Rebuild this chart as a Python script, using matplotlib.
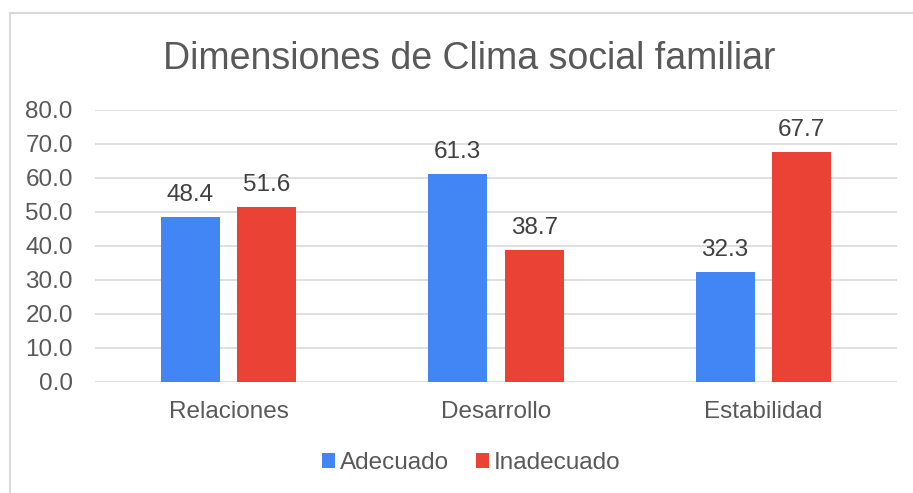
import matplotlib.pyplot as plt
import numpy as np
from matplotlib.lines import Line2D

plt.rcParams['font.family'] = ['Liberation Sans', 'DejaVu Sans']

categories = ['Relaciones', 'Desarrollo', 'Estabilidad']
adecuado = [48.4, 61.3, 32.3]
inadecuado = [51.6, 38.7, 67.7]
yticks = [0, 10, 20, 30, 40, 50, 60, 70, 80]

text_color = '#595959'
grid_color = '#d9d9d9'
blue = '#4285F4'
red = '#EA4335'
fs = 17.5

W, H = 913, 493
fig = plt.figure(figsize=(W / 100, H / 100), dpi=100)
# plot area in pixels: x 95..897, y 110..382
ax = fig.add_axes([95 / W, 1 - 382 / H, (897 - 95) / W, (382 - 110) / H])

x = np.arange(len(categories))
width = 0.22
offset = 0.143
b1 = ax.bar(x - offset, adecuado, width, color=blue, label='Adecuado', zorder=3)
b2 = ax.bar(x + offset, inadecuado, width, color=red, label='Inadecuado', zorder=3)

for bars, vals in ((b1, adecuado), (b2, inadecuado)):
    for rect, v in zip(bars, vals):
        ax.annotate(f'{v:.1f}', (rect.get_x() + rect.get_width() / 2, v),
                    xytext=(0, 11.5), textcoords='offset points',
                    ha='center', va='baseline', fontsize=fs, color='#404040')

ax.set_xlim(-0.5, 2.5)
ax.set_ylim(0, 80)
ax.set_yticks(yticks)
ax.set_yticklabels([f'{t:.1f}' for t in yticks])
ax.set_xticks(x)
ax.set_xticklabels(categories)
ax.tick_params(axis='both', length=0, labelsize=fs, colors=text_color)
ax.tick_params(axis='y', pad=16)
ax.tick_params(axis='x', pad=14)
ax.grid(axis='y', color=grid_color, linewidth=1.2, zorder=0)
for s in ax.spines.values():
    s.set_visible(False)

fig.text(469 / W, 1 - 59 / H, 'Dimensiones de Clima social familiar',
         ha='center', va='center', fontsize=27, color=text_color)

fig.legend(handles=[b1, b2], loc='center', bbox_to_anchor=(471 / W, 1 - 463 / H),
           ncol=2, frameon=False, fontsize=fs, labelcolor=text_color,
           handlelength=0.55, handleheight=0.55, handletextpad=0.2, columnspacing=1.1)

# chart border (top and left visible)
fig.add_artist(Line2D([10 / W, 912 / W], [1 - 13 / H, 1 - 13 / H], color='#d9d9d9', linewidth=1.5))
fig.add_artist(Line2D([10 / W, 10 / W], [0, 1 - 13 / H], color='#d9d9d9', linewidth=1.5))

fig.savefig('out.png', dpi=100)
